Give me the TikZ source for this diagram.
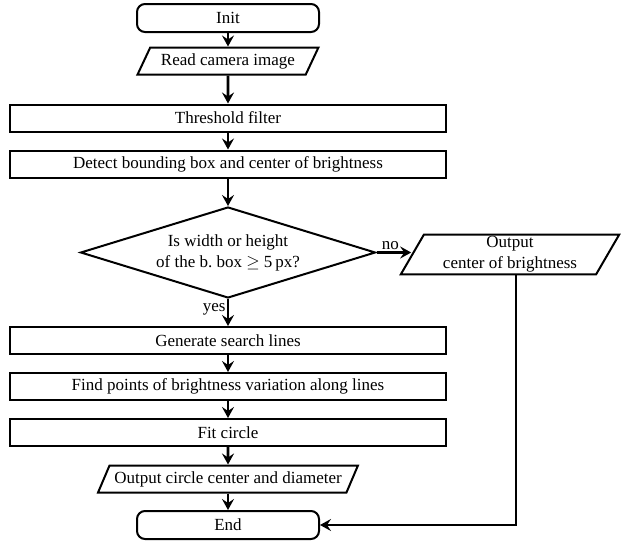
\documentclass[tikz,border=0pt]{standalone}
\usepackage{fontspec}
\setmainfont{Liberation Serif}
\usetikzlibrary{shapes.geometric,arrows.meta}
\begin{document}
\begin{tikzpicture}[x=1pt,y=-1pt,
  base/.style={draw,line width=2pt,inner sep=2pt,font=\fontsize{17}{21}\selectfont,align=center},
  proc/.style={base,rectangle,minimum width=436pt,minimum height=27pt},
  term/.style={base,rectangle,rounded corners=8pt,minimum width=182pt,minimum height=28pt},
  io/.style={base,trapezium,trapezium left angle=60,trapezium right angle=120,trapezium stretches=true,minimum height=27pt},
  dec/.style={base,diamond,shape aspect=3.24,minimum width=295pt,minimum height=91pt,inner sep=0pt},
  flow/.style={line width=2.8pt,-{Stealth[length=11pt,width=12pt,inset=4pt]}},
  lab/.style={font=\fontsize{17}{21}\selectfont,inner sep=1pt}
]
\useasboundingbox (0,0) rectangle (622,554);
\node[term] (init) at (228,18) {Init};
\node[io,minimum width=181pt] (read) at (228,61) {Read camera image};
\node[proc] (thr) at (228,118) {Threshold filter};
\node[proc] (det) at (228,164) {Detect bounding box and center of brightness};
\node[dec] (dec) at (228,252.5) {Is width or height\\of the b.\ box $\geq$ 5\,px?};
\node[io,minimum width=219pt,minimum height=37pt,trapezium left angle=65,trapezium right angle=115] (out) at (510,254.5) {Output\\center of brightness};
\node[proc] (gen) at (228,340.5) {Generate search lines};
\node[proc] (find) at (228,386.5) {Find points of brightness variation along lines};
\node[proc] (fit) at (228,432.5) {Fit circle};
\node[io,minimum width=260pt] (oc) at (228,479) {Output circle center and diameter};
\node[term] (end) at (228,525) {End};
\draw[flow] (init) -- (read);
\draw[flow] (read) -- (thr);
\draw[flow] (thr) -- (det);
\draw[flow] (det) -- (dec);
\draw[flow] (dec.east) -- (dec.east -| out.west) node[lab,pos=0.4,above] (no) {no};
\draw[flow] (dec.south) -- (gen.north) node[lab,pos=0.4,left] (yes) {yes};
\draw[flow] (gen) -- (find);
\draw[flow] (find) -- (fit);
\draw[flow] (fit) -- (oc);
\draw[flow] (oc) -- (end);
\draw[flow] ([xshift=6pt]out.south) |- (end.east);
\end{tikzpicture}
\end{document}
